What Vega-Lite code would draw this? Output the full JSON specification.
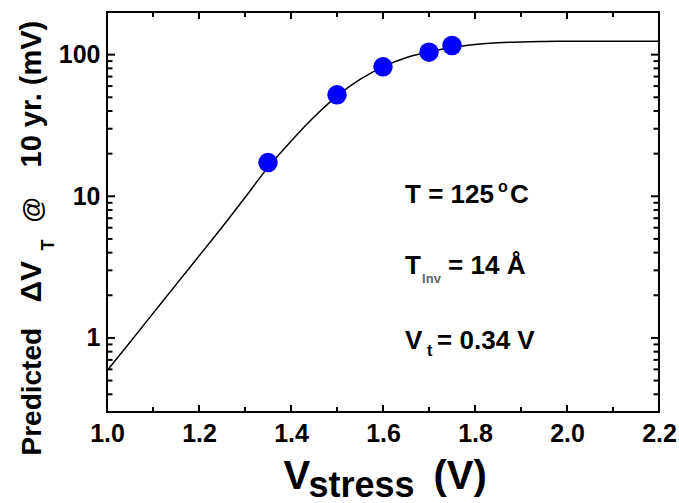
{
  "$schema": "https://vega.github.io/schema/vega-lite/v6.json",
  "width": 552,
  "height": 400,
  "autosize": {"type": "none"},
  "padding": {"left": 107, "top": 12, "right": 20, "bottom": 91},
  "background": "white",
  "config": {
    "view": {"stroke": "black", "strokeWidth": 2},
    "font": "Liberation Sans",
    "axis": {
      "grid": false,
      "domain": false,
      "ticks": false,
      "labelFont": "Liberation Sans",
      "labelFontSize": 25,
      "labelFontWeight": "bold",
      "labelColor": "black",
      "titleFont": "Liberation Sans",
      "titleFontWeight": "bold",
      "titleColor": "black",
      "labelFlush": false,
      "labelOverlap": false
    }
  },
  "datasets": {
    "curve": [
      {"V": 1.00, "dVT": 0.586},
      {"V": 1.05, "dVT": 0.933},
      {"V": 1.10, "dVT": 1.49},
      {"V": 1.15, "dVT": 2.38},
      {"V": 1.20, "dVT": 3.79},
      {"V": 1.25, "dVT": 6.04},
      {"V": 1.30, "dVT": 9.8},
      {"V": 1.35, "dVT": 16.0},
      {"V": 1.40, "dVT": 24.5},
      {"V": 1.45, "dVT": 36.3},
      {"V": 1.50, "dVT": 51.0},
      {"V": 1.55, "dVT": 66.8},
      {"V": 1.60, "dVT": 82.0},
      {"V": 1.65, "dVT": 95.0},
      {"V": 1.70, "dVT": 104.5},
      {"V": 1.75, "dVT": 112.7},
      {"V": 1.80, "dVT": 118.0},
      {"V": 1.85, "dVT": 121.3},
      {"V": 1.90, "dVT": 123.0},
      {"V": 1.95, "dVT": 123.9},
      {"V": 2.00, "dVT": 124.2},
      {"V": 2.10, "dVT": 124.5},
      {"V": 2.20, "dVT": 124.5}
    ],
    "meas": [
      {"V": 1.35, "dVT": 17.3},
      {"V": 1.50, "dVT": 52},
      {"V": 1.60, "dVT": 82},
      {"V": 1.70, "dVT": 104},
      {"V": 1.75, "dVT": 116}
    ],
    "xMajor": [{"V": 1.2}, {"V": 1.4}, {"V": 1.6}, {"V": 1.8}, {"V": 2.0}],
    "xMinor": [{"V": 1.1}, {"V": 1.3}, {"V": 1.5}, {"V": 1.7}, {"V": 1.9}, {"V": 2.1}],
    "yMajor": [{"dVT": 1}, {"dVT": 10}, {"dVT": 100}],
    "yMinor": [
      {"dVT": 0.4}, {"dVT": 0.5}, {"dVT": 0.6}, {"dVT": 0.7}, {"dVT": 0.8}, {"dVT": 0.9},
      {"dVT": 2}, {"dVT": 3}, {"dVT": 4}, {"dVT": 5}, {"dVT": 6}, {"dVT": 7}, {"dVT": 8}, {"dVT": 9},
      {"dVT": 20}, {"dVT": 30}, {"dVT": 40}, {"dVT": 50}, {"dVT": 60}, {"dVT": 70}, {"dVT": 80}, {"dVT": 90}
    ],
    "one": [{}]
  },
  "resolve": {"axis": {"x": "independent", "y": "independent"}},
  "layer": [
    {
      "data": {"name": "curve"},
      "mark": {"type": "line", "color": "black", "strokeWidth": 1.5, "interpolate": "monotone", "clip": true},
      "encoding": {
        "x": {"field": "V", "type": "quantitative",
          "scale": {"domain": [1.0, 2.2], "nice": false, "zero": false},
          "axis": {"orient": "bottom", "values": [1.0, 1.2, 1.4, 1.6, 1.8, 2.0, 2.2], "format": ".1f",
            "labelPadding": 9,
            "title": "V", "titleFontSize": 40, "titleX": 176, "titleY": 76, "titleAlign": "left", "titleBaseline": "alphabetic", "titleAngle": 0}},
        "y": {"field": "dVT", "type": "quantitative",
          "scale": {"type": "log", "domain": [0.3, 200], "nice": false},
          "axis": {"orient": "left", "values": [1, 10, 100], "format": "d",
            "labelPadding": 7,
            "title": "Predicted", "titleFontSize": 28, "titleX": -67, "titleY": 443, "titleAlign": "left", "titleBaseline": "alphabetic", "titleAngle": 270}}
      }
    },
    {
      "data": {"name": "meas"},
      "mark": {"type": "circle", "color": "#0000ff", "opacity": 1, "size": 380},
      "encoding": {
        "x": {"field": "V", "type": "quantitative",
          "axis": {"orient": "bottom", "values": [1.0], "labels": false,
            "title": "stress", "titleFontSize": 36, "titleX": 201, "titleY": 84, "titleAlign": "left", "titleBaseline": "alphabetic", "titleAngle": 0}},
        "y": {"field": "dVT", "type": "quantitative",
          "axis": {"orient": "left", "values": [1], "labels": false,
            "title": "ΔV", "titleFontSize": 30, "titleX": -67, "titleY": 290, "titleAlign": "left", "titleBaseline": "alphabetic", "titleAngle": 270}}
      }
    },
    {
      "data": {"name": "one"},
      "mark": {"type": "text", "text": "T = 125", "font": "Liberation Sans", "fontWeight": "bold", "fontSize": 26, "align": "left", "baseline": "alphabetic", "color": "black"},
      "encoding": {
        "x": {"datum": 1.648, "type": "quantitative", "axis": null},
        "y": {"datum": 8.93, "type": "quantitative",
          "axis": {"orient": "left", "values": [1], "labels": false,
            "title": "T", "titleFontSize": 18, "titleX": -54, "titleY": 238, "titleAlign": "left", "titleBaseline": "alphabetic", "titleAngle": 270}}
      }
    },
    {
      "data": {"name": "one"},
      "mark": {"type": "text", "text": "o", "font": "Liberation Sans", "fontWeight": "bold", "fontSize": 16, "align": "left", "baseline": "alphabetic", "color": "black", "dx": 93, "dy": -11},
      "encoding": {
        "x": {"datum": 1.648, "type": "quantitative", "axis": null},
        "y": {"datum": 8.93, "type": "quantitative",
          "axis": {"orient": "right", "values": [1], "labels": false,
            "title": "@", "titleFontSize": 26, "titleX": -619, "titleY": 210, "titleAlign": "left", "titleBaseline": "alphabetic", "titleAngle": 270}}
      }
    },
    {
      "data": {"name": "one"},
      "mark": {"type": "text", "text": "C", "font": "Liberation Sans", "fontWeight": "bold", "fontSize": 26, "align": "left", "baseline": "alphabetic", "color": "black", "dx": 105},
      "encoding": {
        "x": {"datum": 1.648, "type": "quantitative",
          "axis": {"orient": "top", "values": [1.0], "labels": false,
            "title": "(V)", "titleFontSize": 40, "titleX": 326, "titleY": 476, "titleAlign": "left", "titleBaseline": "alphabetic", "titleAngle": 0}},
        "y": {"datum": 8.93, "type": "quantitative",
          "axis": {"orient": "right", "values": [1], "labels": false,
            "title": "10 yr. (mV)", "titleFontSize": 29, "titleX": -619, "titleY": 155, "titleAlign": "left", "titleBaseline": "alphabetic", "titleAngle": 270}}
      }
    },
    {
      "data": {"name": "one"},
      "mark": {"type": "text", "text": "T", "font": "Liberation Sans", "fontWeight": "bold", "fontSize": 26, "align": "left", "baseline": "alphabetic", "color": "black"},
      "encoding": {
        "x": {"datum": 1.648, "type": "quantitative", "axis": null},
        "y": {"datum": 2.823, "type": "quantitative", "axis": null}
      }
    },
    {
      "data": {"name": "one"},
      "mark": {"type": "text", "text": "Inv", "font": "Liberation Sans", "fontWeight": "bold", "fontSize": 13, "align": "left", "baseline": "alphabetic", "color": "#666666", "dx": 17, "dy": 9},
      "encoding": {
        "x": {"datum": 1.648, "type": "quantitative", "axis": null},
        "y": {"datum": 2.823, "type": "quantitative", "axis": null}
      }
    },
    {
      "data": {"name": "one"},
      "mark": {"type": "text", "text": "= 14 Å", "font": "Liberation Sans", "fontWeight": "bold", "fontSize": 26, "align": "left", "baseline": "alphabetic", "color": "black", "dx": 43},
      "encoding": {
        "x": {"datum": 1.648, "type": "quantitative", "axis": null},
        "y": {"datum": 2.823, "type": "quantitative", "axis": null}
      }
    },
    {
      "data": {"name": "one"},
      "mark": {"type": "text", "text": "V", "font": "Liberation Sans", "fontWeight": "bold", "fontSize": 26, "align": "left", "baseline": "alphabetic", "color": "black"},
      "encoding": {
        "x": {"datum": 1.648, "type": "quantitative", "axis": null},
        "y": {"datum": 0.837, "type": "quantitative", "axis": null}
      }
    },
    {
      "data": {"name": "one"},
      "mark": {"type": "text", "text": "t", "font": "Liberation Sans", "fontWeight": "bold", "fontSize": 16, "align": "left", "baseline": "alphabetic", "color": "black", "dx": 22, "dy": 7},
      "encoding": {
        "x": {"datum": 1.648, "type": "quantitative", "axis": null},
        "y": {"datum": 0.837, "type": "quantitative", "axis": null}
      }
    },
    {
      "data": {"name": "one"},
      "mark": {"type": "text", "text": "= 0.34 V", "font": "Liberation Sans", "fontWeight": "bold", "fontSize": 26, "align": "left", "baseline": "alphabetic", "color": "black", "dx": 32},
      "encoding": {
        "x": {"datum": 1.648, "type": "quantitative", "axis": null},
        "y": {"datum": 0.837, "type": "quantitative", "axis": null}
      }
    },
    {
      "data": {"name": "xMajor"},
      "mark": {"type": "tick", "orient": "vertical", "color": "black", "size": 14, "thickness": 2, "opacity": 1, "clip": true},
      "encoding": {
        "x": {"field": "V", "type": "quantitative", "axis": null},
        "y": {"datum": 0.3, "type": "quantitative", "axis": null}
      }
    },
    {
      "data": {"name": "xMajor"},
      "mark": {"type": "tick", "orient": "vertical", "color": "black", "size": 14, "thickness": 2, "opacity": 1, "clip": true},
      "encoding": {
        "x": {"field": "V", "type": "quantitative", "axis": null},
        "y": {"datum": 200, "type": "quantitative", "axis": null}
      }
    },
    {
      "data": {"name": "xMinor"},
      "mark": {"type": "tick", "orient": "vertical", "color": "black", "size": 10, "thickness": 2, "opacity": 1, "clip": true},
      "encoding": {
        "x": {"field": "V", "type": "quantitative", "axis": null},
        "y": {"datum": 0.3, "type": "quantitative", "axis": null}
      }
    },
    {
      "data": {"name": "xMinor"},
      "mark": {"type": "tick", "orient": "vertical", "color": "black", "size": 10, "thickness": 2, "opacity": 1, "clip": true},
      "encoding": {
        "x": {"field": "V", "type": "quantitative", "axis": null},
        "y": {"datum": 200, "type": "quantitative", "axis": null}
      }
    },
    {
      "data": {"name": "yMajor"},
      "mark": {"type": "tick", "orient": "horizontal", "color": "black", "size": 16, "thickness": 2, "opacity": 1, "clip": true},
      "encoding": {
        "x": {"datum": 1.0, "type": "quantitative", "axis": null},
        "y": {"field": "dVT", "type": "quantitative", "axis": null}
      }
    },
    {
      "data": {"name": "yMajor"},
      "mark": {"type": "tick", "orient": "horizontal", "color": "black", "size": 16, "thickness": 2, "opacity": 1, "clip": true},
      "encoding": {
        "x": {"datum": 2.2, "type": "quantitative", "axis": null},
        "y": {"field": "dVT", "type": "quantitative", "axis": null}
      }
    },
    {
      "data": {"name": "yMinor"},
      "mark": {"type": "tick", "orient": "horizontal", "color": "black", "size": 11, "thickness": 2, "opacity": 1, "clip": true},
      "encoding": {
        "x": {"datum": 1.0, "type": "quantitative", "axis": null},
        "y": {"field": "dVT", "type": "quantitative", "axis": null}
      }
    },
    {
      "data": {"name": "yMinor"},
      "mark": {"type": "tick", "orient": "horizontal", "color": "black", "size": 11, "thickness": 2, "opacity": 1, "clip": true},
      "encoding": {
        "x": {"datum": 2.2, "type": "quantitative", "axis": null},
        "y": {"field": "dVT", "type": "quantitative", "axis": null}
      }
    }
  ]
}
